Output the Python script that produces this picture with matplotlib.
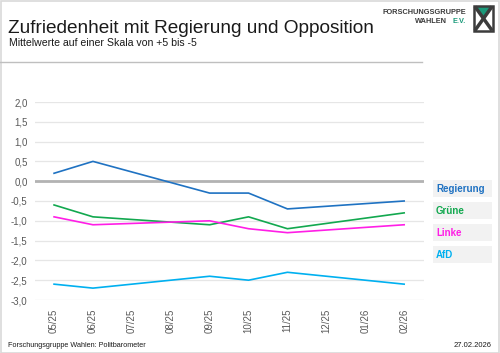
import matplotlib
matplotlib.use("Agg")
import matplotlib.pyplot as plt
from matplotlib.patches import Rectangle, Polygon
from matplotlib.lines import Line2D

plt.rcParams['font.family'] = ['Liberation Sans', 'DejaVu Sans']

months = ["05/25", "06/25", "07/25", "08/25", "09/25", "10/25", "11/25", "12/25", "01/26", "02/26"]
regierung = [0.2, 0.5, None, None, -0.3, -0.3, -0.7, None, None, -0.5]
gruene = [-0.6, -0.9, None, None, -1.1, -0.9, -1.2, None, None, -0.8]
linke = [-0.9, -1.1, None, None, -1.0, -1.2, -1.3, None, None, -1.1]
afd = [-2.6, -2.7, None, None, -2.4, -2.5, -2.3, None, None, -2.6]
series_names = ["Regierung", "Grüne", "Linke", "AfD"]
series_values = [regierung, gruene, linke, afd]
colors = ["#1f72c2", "#12a84f", "#ff1ee6", "#00b0f0"]
yticks = [2.0, 1.5, 1.0, 0.5, 0.0, -0.5, -1.0, -1.5, -2.0, -2.5, -3.0]

W, H = 500, 353
fig = plt.figure(figsize=(W / 100, H / 100), dpi=100)

def fx(px):
    return px / W

def fy(py):
    return 1 - py / H

# border
fig.patches.append(Rectangle((0.001, 0.001), 0.997, 0.996, transform=fig.transFigure,
                             fill=False, edgecolor="#d9d9d9", linewidth=1.2))

# title and subtitle
fig.text(fx(8), fy(33), "Zufriedenheit mit Regierung und Opposition", fontsize=13.7,
         color="#1a1a1a", va="baseline", ha="left")
fig.text(fx(9), fy(46), "Mittelwerte auf einer Skala von +5 bis -5", fontsize=7.6,
         color="#1a1a1a", va="baseline", ha="left")
# separator
fig.add_artist(Line2D([0, fx(422)], [fy(62), fy(62)], transform=fig.transFigure,
                      color="#bfbfbf", linewidth=1.0))

# logo
fig.text(fx(466), fy(14), "FORSCHUNGSGRUPPE", fontsize=5.3, fontweight="bold",
         color="#3c3c3c", ha="right", va="baseline")
fig.text(fx(447), fy(23), "WAHLEN", fontsize=5.3, fontweight="bold",
         color="#3c3c3c", ha="right", va="baseline")
fig.text(fx(466), fy(23), "E.V.", fontsize=5.3, fontweight="bold",
         color="#1a9a7a", ha="right", va="baseline")
lx0, lx1, ly0, ly1 = 474, 493, 6, 31
fig.patches.append(Polygon([(fx(lx0), fy(ly0)), (fx(lx1), fy(ly0)), (fx((lx0 + lx1) / 2), fy(18))],
                           closed=True, transform=fig.transFigure, facecolor="#1a9a7a", edgecolor="none"))
fig.add_artist(Line2D([fx(lx0 + 2), fx(lx1 - 2)], [fy(ly0 + 2), fy(ly1 - 2)], transform=fig.transFigure,
                      color="#3c3c3c", linewidth=2.5))
fig.add_artist(Line2D([fx(lx1 - 2), fx(lx0 + 2)], [fy(ly0 + 2), fy(ly1 - 2)], transform=fig.transFigure,
                      color="#3c3c3c", linewidth=2.5))
fig.patches.append(Rectangle((fx(lx0), fy(ly1)), fx(lx1 - lx0), (ly1 - ly0) / H, transform=fig.transFigure,
                             fill=False, edgecolor="#3c3c3c", linewidth=1.8))

# axes
ax = fig.add_axes([fx(34.6), fy(300), fx(423.6 - 34.6), (300 - 102) / H])
ax.set_xlim(-0.5, len(months) - 0.5)
ax.set_ylim(-3.0, 2.0)
ax.set_yticks(yticks)
ax.set_yticklabels([f"{v:.1f}".replace(".", ",") for v in yticks], fontsize=7, color="#595959")
ax.set_xticks(range(len(months)))
ax.set_xticklabels(months, rotation=90, fontsize=7, color="#595959")
ax.tick_params(length=0, pad=5)
ax.tick_params(axis="x", pad=6)
for s in ax.spines.values():
    s.set_visible(False)
ax.grid(axis="y", color="#e6e6e6", linewidth=0.9)
ax.set_axisbelow(True)
ax.axhline(0, color="#b3b3b3", linewidth=2.0, zorder=1)

for name, vals, c in zip(series_names, series_values, colors):
    xs = [i for i, v in enumerate(vals) if v is not None]
    ys = [v for v in vals if v is not None]
    ax.plot(xs, ys, color=c, linewidth=1.2, zorder=3)

# legend boxes
for i, (name, c) in enumerate(zip(series_names, colors)):
    top = 180 + i * 22
    fig.patches.append(Rectangle((fx(433), fy(top + 17)), fx(59), 17 / H, transform=fig.transFigure,
                                 facecolor="#f2f2f2", edgecolor="none"))
    fig.text(fx(436), fy(top + 8.5), name, fontsize=7, fontweight="bold", color=c,
             ha="left", va="center")

# footer
fig.text(fx(8), fy(347), "Forschungsgruppe Wahlen: Politbarometer", fontsize=5.2,
         color="#1a1a1a", ha="left", va="baseline")
fig.text(fx(492), fy(347), "27.02.2026", fontsize=5.5, color="#1a1a1a", ha="right", va="baseline")

fig.savefig("out.png", dpi=100)
